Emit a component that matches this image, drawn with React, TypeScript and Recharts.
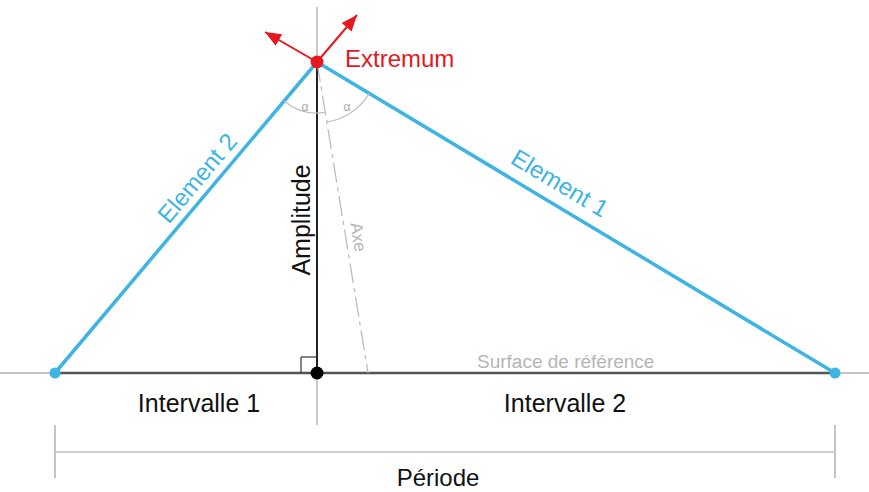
import React from 'react';
import { ComposedChart, Scatter, XAxis, YAxis, ReferenceLine, ReferenceDot } from 'recharts';

// origin = foot of the amplitude on the reference surface, y up
const leftEnd = { x: -262, y: 0 };
const apex = { x: 0, y: 311 };
const rightEnd = { x: 518, y: 0 };
const axeFoot = { x: 51, y: 0 };

const vertices = [
  { x: leftEnd.x, y: leftEnd.y, kind: 'end' },
  { x: rightEnd.x, y: rightEnd.y, kind: 'end' },
  { x: 0, y: 0, kind: 'foot' },
  { x: apex.x, y: apex.y, kind: 'apex' },
];
const arrowTips = [
  { x: -52, y: 341 },
  { x: 40, y: 358 },
];
const periodY = -79;
const periodTick = [-52, -105];
const rightAngle = 16;

const labels = [
  { text: 'Extremum', x: 28, y: 315, angle: 0, size: 24, color: '#e3191f', anchor: 'start' },
  { text: 'Element 2', x: -120, y: 195, angle: -49.9, size: 24, color: '#3db4e4', anchor: 'middle' },
  { text: 'Element 1', x: 243, y: 190, angle: 31, size: 24, color: '#3db4e4', anchor: 'middle' },
  { text: 'Amplitude', x: -16, y: 153, angle: -90, size: 25, color: '#111', anchor: 'middle' },
  { text: 'Axe', x: 41, y: 136, angle: 80.7, size: 17, color: '#b5b5b5', anchor: 'middle' },
  { text: 'Surface de référence', x: 160, y: 5, angle: 0, size: 19, color: '#b5b5b5', anchor: 'start', baseline: true },
  { text: 'Intervalle 1', x: -118, y: -39, angle: 0, size: 25, color: '#111', anchor: 'middle', baseline: true },
  { text: 'Intervalle 2', x: 248, y: -39, angle: 0, size: 25, color: '#111', anchor: 'middle', baseline: true },
  { text: 'Période', x: 121, y: -113, angle: 0, size: 24, color: '#111', anchor: 'middle', baseline: true },
  { text: 'α', x: -12, y: 266, angle: 0, size: 12, color: '#aaa', anchor: 'middle' },
  { text: 'α', x: 30, y: 266, angle: 0, size: 12, color: '#aaa', anchor: 'middle' },
];

const FONT = '"Liberation Sans", Arial, sans-serif';
const BLUE = '#3db4e4';
const RED = '#e3191f';

const deg = (a: number) => (a * Math.PI) / 180;

const arcPath = (cx: number, cy: number, r: number, a0: number, a1: number) => {
  const x0 = cx + r * Math.cos(deg(a0));
  const y0 = cy + r * Math.sin(deg(a0));
  const x1 = cx + r * Math.cos(deg(a1));
  const y1 = cy + r * Math.sin(deg(a1));
  return `M${x0},${y0} A${r},${r} 0 0 ${a1 > a0 ? 1 : 0} ${x1},${y1}`;
};

const screenAngle = (from: { x: number; y: number }, to: { x: number; y: number }) =>
  (Math.atan2(-(to.y - from.y), to.x - from.x) * 180) / Math.PI;

const App: React.FC = () => {
  const a2 = screenAngle(apex, leftEnd);
  const aAxe = screenAngle(apex, axeFoot);
  const a1 = screenAngle(apex, rightEnd);

  return (
    <div style={{ width: 869, height: 492 }}>
      <style>{'body{margin:0}'}</style>
      <ComposedChart width={869} height={492} margin={{ top: 0, right: 0, bottom: 0, left: 0 }}>
        <XAxis type="number" dataKey="x" domain={[-317, 552]} allowDataOverflow hide />
        <YAxis type="number" dataKey="y" domain={[-119, 373]} allowDataOverflow hide />

        {/* reference surface */}
        <ReferenceLine y={0} stroke="#c4c4c4" strokeWidth={2} />
        <ReferenceLine segment={[leftEnd, rightEnd]} stroke="#555" strokeWidth={2.5} />
        {/* vertical through extremum */}
        <ReferenceLine segment={[{ x: 0, y: 366 }, { x: 0, y: -52 }]} stroke="#b8b8b8" strokeWidth={1.5} />
        <ReferenceLine segment={[apex, { x: 0, y: 0 }]} stroke="#222" strokeWidth={2} />
        {/* right angle */}
        <ReferenceLine segment={[{ x: -rightAngle, y: 0 }, { x: -rightAngle, y: rightAngle }]} stroke="#333" strokeWidth={1.2} />
        <ReferenceLine segment={[{ x: -rightAngle, y: rightAngle }, { x: 0, y: rightAngle }]} stroke="#333" strokeWidth={1.2} />
        {/* axe */}
        <ReferenceLine segment={[apex, axeFoot]} stroke="#bdbdbd" strokeWidth={1.3} strokeDasharray="20 5 4 5" />
        {/* period dimension */}
        <ReferenceLine segment={[{ x: leftEnd.x, y: periodY }, { x: rightEnd.x, y: periodY }]} stroke="#cfcfcf" strokeWidth={2} />
        <ReferenceLine segment={[{ x: leftEnd.x, y: periodTick[0] }, { x: leftEnd.x, y: periodTick[1] }]} stroke="#c4c4c4" strokeWidth={2} />
        <ReferenceLine segment={[{ x: rightEnd.x, y: periodTick[0] }, { x: rightEnd.x, y: periodTick[1] }]} stroke="#c4c4c4" strokeWidth={2} />

        {/* angle arcs */}
        <ReferenceDot
          x={apex.x}
          y={apex.y}
          r={0}
          shape={(p: any) => (
            <g fill="none" stroke="#c0c0c0" strokeWidth={1.3}>
              <path d={arcPath(p.cx, p.cy, 51, a2, aAxe)} />
              <path d={arcPath(p.cx, p.cy, 61, aAxe, a1)} />
            </g>
          )}
        />

        {/* elements */}
        <ReferenceLine segment={[leftEnd, apex]} stroke={BLUE} strokeWidth={3.5} />
        <ReferenceLine segment={[apex, rightEnd]} stroke={BLUE} strokeWidth={3.5} />

        {/* red arrows */}
        {arrowTips.map((tip, i) => (
          <ReferenceLine key={`arrow-${i}`} segment={[apex, tip]} stroke={RED} strokeWidth={2} />
        ))}
        {arrowTips.map((tip, i) => {
          const ang = screenAngle(apex, tip);
          return (
            <ReferenceDot
              key={`head-${i}`}
              x={tip.x}
              y={tip.y}
              r={0}
              shape={(p: any) => (
                <polygon
                  points="0,0 -16,-6.5 -16,6.5"
                  fill={RED}
                  transform={`translate(${p.cx},${p.cy}) rotate(${ang})`}
                />
              )}
            />
          );
        })}

        {vertices.map((v, i) => {
          const fill = v.kind === 'end' ? BLUE : v.kind === 'apex' ? RED : '#000';
          const r = v.kind === 'end' ? 5.5 : 6.5;
          return <ReferenceDot key={`v-${i}`} x={v.x} y={v.y} r={r} fill={fill} stroke="none" />;
        })}

        <Scatter data={vertices} isAnimationActive={false} shape={() => <g />} />

        {labels.map((l, i) => (
          <ReferenceDot
            key={`label-${i}`}
            x={l.x}
            y={l.y}
            r={0}
            shape={(p: any) => (
              <text
                x={0}
                y={0}
                transform={`translate(${p.cx},${p.cy}) rotate(${l.angle})`}
                textAnchor={l.anchor as any}
                dominantBaseline={l.baseline ? 'alphabetic' : 'central'}
                fontFamily={FONT}
                fontSize={l.size}
                fill={l.color}
              >
                {l.text}
              </text>
            )}
          />
        ))}
      </ComposedChart>
    </div>
  );
};

export default App;
